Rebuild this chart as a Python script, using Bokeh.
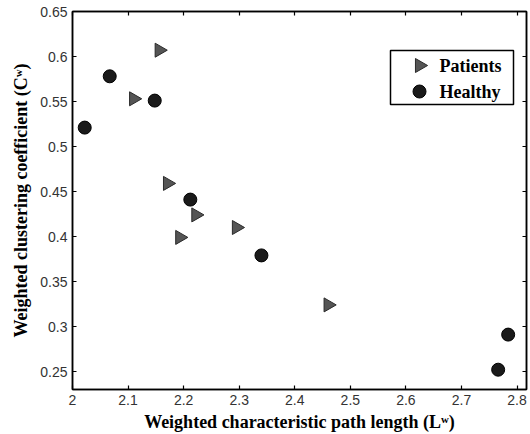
import math
from bokeh.plotting import figure
from bokeh.models import LinearAxis, FixedTicker, Range1d, CustomJSTickFormatter
from bokeh.core.properties import value
from bokeh.embed import file_html
from bokeh.resources import INLINE

# Data
patients_L = [2.156, 2.110, 2.171, 2.222, 2.193, 2.295, 2.460]
patients_C = [0.607, 0.553, 0.459, 0.424, 0.399, 0.410, 0.324]
healthy_L = [2.022, 2.067, 2.148, 2.212, 2.340, 2.784, 2.766]
healthy_C = [0.521, 0.578, 0.551, 0.441, 0.379, 0.291, 0.252]

x_ticks = [2.0, 2.1, 2.2, 2.3, 2.4, 2.5, 2.6, 2.7, 2.8]
x_tick_labels = ["2", "2.1", "2.2", "2.3", "2.4", "2.5", "2.6", "2.7", "2.8"]
y_ticks = [0.25, 0.3, 0.35, 0.4, 0.45, 0.5, 0.55, 0.6, 0.65]
y_tick_labels = ["0.25", "0.3", "0.35", "0.4", "0.45", "0.5", "0.55", "0.6", "0.65"]

legend_labels = ["Patients", "Healthy"]

FRAME_W, FRAME_H = 454, 378

p = figure(width=530, height=434, output_backend="svg", toolbar_location=None,
           x_range=Range1d(2.0, 2.817), y_range=Range1d(0.23, 0.65),
           x_axis_location=None, y_axis_location=None,
           min_border_left=72, min_border_right=4, min_border_top=11, min_border_bottom=45)
p.extra_x_ranges = {"px": Range1d(0, FRAME_W)}
p.extra_y_ranges = {"px": Range1d(0, FRAME_H)}
p.grid.visible = False
p.background_fill_color = "white"
p.border_fill_color = "white"
p.outline_line_color = "black"
p.outline_line_width = 1.5

label_font = "Liberation Serif"
tick_font = "Liberation Sans"

def style_axis(ax, show_labels):
    ax.axis_line_color = "black"
    ax.axis_line_width = 1.5
    ax.major_tick_in = 4
    ax.major_tick_out = 0
    ax.major_tick_line_color = "black"
    ax.major_tick_line_width = 1.2
    ax.minor_tick_line_color = None
    if show_labels:
        ax.major_label_text_font = tick_font
        ax.major_label_text_font_size = "14px"
        ax.major_label_text_color = "#333333"
        ax.major_label_standoff = 5
        ax.axis_label_text_font = label_font
        ax.axis_label_text_font_style = "bold"
        ax.axis_label_text_font_size = "18px"
        ax.axis_label_text_color = "black"
    else:
        ax.formatter = CustomJSTickFormatter(code="return ''")
        ax.major_label_standoff = 0

xb = LinearAxis(ticker=FixedTicker(ticks=x_ticks),
                major_label_overrides={t: s for t, s in zip(x_ticks, x_tick_labels)},
                axis_label="Weighted characteristic path length (L\u02b7)")
style_axis(xb, True)
xb.axis_label_standoff = 4
p.add_layout(xb, "below")

yl = LinearAxis(ticker=FixedTicker(ticks=y_ticks),
                major_label_overrides={t: s for t, s in zip(y_ticks, y_tick_labels)},
                axis_label="Weighted clustering coefficient (C\u02b7)")
style_axis(yl, True)
yl.axis_label_standoff = 6
p.add_layout(yl, "left")

xt = LinearAxis(ticker=FixedTicker(ticks=x_ticks))
style_axis(xt, False)
p.add_layout(xt, "above")
yr = LinearAxis(ticker=FixedTicker(ticks=y_ticks))
style_axis(yr, False)
p.add_layout(yr, "right")

tri_style = dict(marker="triangle", size=14, angle=-math.pi / 2,
                 fill_color="#555555", line_color="#2a2a2a", line_width=1)
circ_style = dict(marker="circle", size=13,
                  fill_color="#1a1a1a", line_color="black", line_width=1)

p.scatter(patients_L, patients_C, **tri_style)
p.scatter(healthy_L, healthy_C, **circ_style)

# Manual legend (frame pixel coordinates), so the triangle can point right
p.quad(left=[318], right=[441], bottom=[285], top=[339],
       x_range_name="px", y_range_name="px",
       fill_color="white", line_color="black", line_width=1.5)
p.scatter([347], [324], x_range_name="px", y_range_name="px", **tri_style)
p.scatter([347], [298], x_range_name="px", y_range_name="px", **circ_style)
p.text(x=[367, 367], y=[324, 298], text=legend_labels,
       x_range_name="px", y_range_name="px",
       text_font=value(label_font), text_font_style="bold", text_font_size="18px",
       text_color="black", text_baseline="middle", text_align="left")

open("out.html", "w").write(file_html(p, INLINE))
